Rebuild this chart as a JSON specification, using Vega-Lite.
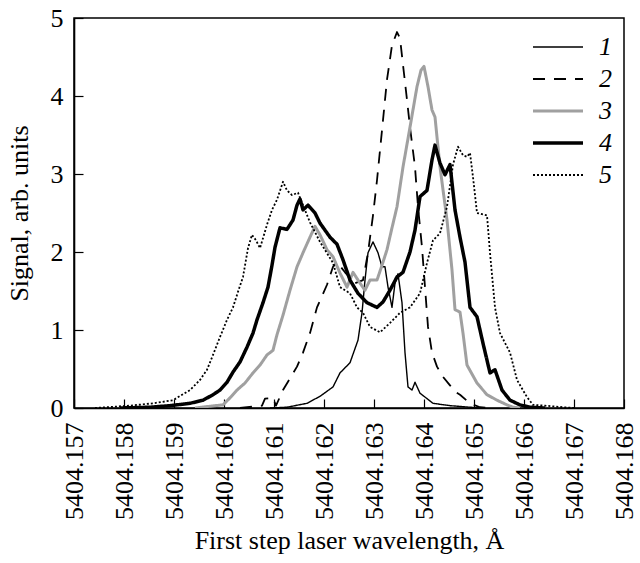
{
"$schema": "https://vega.github.io/schema/vega-lite/v6.json",
"width": 550, "height": 390,
"autosize": {"type": "none"},
"padding": {"left": 74, "top": 18, "right": 16, "bottom": 155},
"background": "white",
"config": {
  "view": {"stroke": "black", "strokeWidth": 1.5},
  "font": "Liberation Serif",
  "axis": {"grid": false, "domainColor": "black", "domainWidth": 1.6, "tickColor": "black", "tickWidth": 1.2, "tickSize": -9, "labelColor": "black", "titleColor": "black", "labelFont": "Liberation Serif", "titleFont": "Liberation Serif", "labelFontSize": 26, "titleFontSize": 26, "titleFontWeight": "normal", "labelOverlap": false, "labelFlush": false, "labelBound": false}
},
"data": {"values": [
{"c":"1","w":5404.16092,"s":0},{"c":"1","w":5404.16126,"s":0.01},{"c":"1","w":5404.16166,"s":0.06},{"c":"1","w":5404.16192,"s":0.15},{"c":"1","w":5404.16218,"s":0.27},{"c":"1","w":5404.16232,"s":0.45},{"c":"1","w":5404.16252,"s":0.58},{"c":"1","w":5404.16268,"s":0.87},{"c":"1","w":5404.16276,"s":1.22},{"c":"1","w":5404.16282,"s":1.64},{"c":"1","w":5404.16288,"s":1.99},{"c":"1","w":5404.16298,"s":2.13},{"c":"1","w":5404.16308,"s":1.99},{"c":"1","w":5404.16316,"s":1.81},{"c":"1","w":5404.16322,"s":1.81},{"c":"1","w":5404.16328,"s":1.55},{"c":"1","w":5404.16336,"s":1.29},{"c":"1","w":5404.16342,"s":1.6},{"c":"1","w":5404.16348,"s":1.72},{"c":"1","w":5404.16356,"s":1.35},{"c":"1","w":5404.16362,"s":0.71},{"c":"1","w":5404.16368,"s":0.27},{"c":"1","w":5404.16376,"s":0.23},{"c":"1","w":5404.16382,"s":0.33},{"c":"1","w":5404.16392,"s":0.19},{"c":"1","w":5404.16418,"s":0.06},{"c":"1","w":5404.16452,"s":0.03},{"c":"1","w":5404.16512,"s":0},
{"c":"2","w":5404.16032,"s":0},{"c":"2","w":5404.16076,"s":0.03},{"c":"2","w":5404.16082,"s":0.12},{"c":"2","w":5404.16098,"s":0.13},{"c":"2","w":5404.16104,"s":0.03},{"c":"2","w":5404.16118,"s":0.23},{"c":"2","w":5404.16146,"s":0.53},{"c":"2","w":5404.16158,"s":0.71},{"c":"2","w":5404.16172,"s":0.96},{"c":"2","w":5404.16186,"s":1.29},{"c":"2","w":5404.16206,"s":1.58},{"c":"2","w":5404.16218,"s":1.81},{"c":"2","w":5404.16226,"s":1.87},{"c":"2","w":5404.16242,"s":1.74},{"c":"2","w":5404.16262,"s":1.6},{"c":"2","w":5404.16278,"s":1.64},{"c":"2","w":5404.16288,"s":1.99},{"c":"2","w":5404.16298,"s":2.47},{"c":"2","w":5404.16306,"s":2.92},{"c":"2","w":5404.16316,"s":3.56},{"c":"2","w":5404.16326,"s":4.21},{"c":"2","w":5404.16336,"s":4.65},{"c":"2","w":5404.16346,"s":4.82},{"c":"2","w":5404.16352,"s":4.74},{"c":"2","w":5404.16358,"s":4.4},{"c":"2","w":5404.16366,"s":3.95},{"c":"2","w":5404.16372,"s":3.6},{"c":"2","w":5404.16382,"s":3.09},{"c":"2","w":5404.16388,"s":2.58},{"c":"2","w":5404.16396,"s":2.06},{"c":"2","w":5404.16402,"s":1.55},{"c":"2","w":5404.16408,"s":1.04},{"c":"2","w":5404.16416,"s":0.71},{"c":"2","w":5404.16426,"s":0.53},{"c":"2","w":5404.16438,"s":0.4},{"c":"2","w":5404.16452,"s":0.29},{"c":"2","w":5404.16462,"s":0.21},{"c":"2","w":5404.16472,"s":0.17},{"c":"2","w":5404.16492,"s":0.06},{"c":"2","w":5404.16512,"s":0.01},{"c":"2","w":5404.16532,"s":0},
{"c":"3","w":5404.15942,"s":0},{"c":"3","w":5404.15982,"s":0.03},{"c":"3","w":5404.15998,"s":0.04},{"c":"3","w":5404.16012,"s":0.13},{"c":"3","w":5404.16026,"s":0.23},{"c":"3","w":5404.16042,"s":0.32},{"c":"3","w":5404.16058,"s":0.45},{"c":"3","w":5404.16072,"s":0.55},{"c":"3","w":5404.16086,"s":0.68},{"c":"3","w":5404.16098,"s":0.74},{"c":"3","w":5404.16106,"s":0.94},{"c":"3","w":5404.16118,"s":1.19},{"c":"3","w":5404.16132,"s":1.51},{"c":"3","w":5404.16146,"s":1.81},{"c":"3","w":5404.16158,"s":1.99},{"c":"3","w":5404.16172,"s":2.19},{"c":"3","w":5404.16182,"s":2.33},{"c":"3","w":5404.16192,"s":2.22},{"c":"3","w":5404.16206,"s":2.03},{"c":"3","w":5404.16218,"s":1.94},{"c":"3","w":5404.16232,"s":1.73},{"c":"3","w":5404.16246,"s":1.55},{"c":"3","w":5404.16258,"s":1.74},{"c":"3","w":5404.16272,"s":1.6},{"c":"3","w":5404.16282,"s":1.51},{"c":"3","w":5404.16292,"s":1.64},{"c":"3","w":5404.16306,"s":1.64},{"c":"3","w":5404.16316,"s":1.83},{"c":"3","w":5404.16326,"s":2.03},{"c":"3","w":5404.16336,"s":2.31},{"c":"3","w":5404.16346,"s":2.58},{"c":"3","w":5404.16358,"s":3.09},{"c":"3","w":5404.16372,"s":3.6},{"c":"3","w":5404.16386,"s":4.12},{"c":"3","w":5404.16394,"s":4.33},{"c":"3","w":5404.164,"s":4.38},{"c":"3","w":5404.16408,"s":4.12},{"c":"3","w":5404.16416,"s":3.82},{"c":"3","w":5404.16422,"s":3.73},{"c":"3","w":5404.16432,"s":3.09},{"c":"3","w":5404.16446,"s":2.41},{"c":"3","w":5404.16456,"s":1.77},{"c":"3","w":5404.16462,"s":1.26},{"c":"3","w":5404.16472,"s":1.23},{"c":"3","w":5404.16478,"s":0.96},{"c":"3","w":5404.16486,"s":0.55},{"c":"3","w":5404.16506,"s":0.32},{"c":"3","w":5404.16526,"s":0.17},{"c":"3","w":5404.16546,"s":0.1},{"c":"3","w":5404.16566,"s":0.04},{"c":"3","w":5404.16578,"s":0.01},{"c":"3","w":5404.16592,"s":0},
{"c":"4","w":5404.15792,"s":0},{"c":"4","w":5404.15852,"s":0.01},{"c":"4","w":5404.15892,"s":0.03},{"c":"4","w":5404.15932,"s":0.06},{"c":"4","w":5404.15958,"s":0.1},{"c":"4","w":5404.15978,"s":0.17},{"c":"4","w":5404.15992,"s":0.23},{"c":"4","w":5404.16006,"s":0.33},{"c":"4","w":5404.16018,"s":0.46},{"c":"4","w":5404.16032,"s":0.59},{"c":"4","w":5404.16046,"s":0.78},{"c":"4","w":5404.16058,"s":0.96},{"c":"4","w":5404.16066,"s":1.13},{"c":"4","w":5404.16078,"s":1.35},{"c":"4","w":5404.16088,"s":1.55},{"c":"4","w":5404.16096,"s":1.83},{"c":"4","w":5404.16102,"s":2.06},{"c":"4","w":5404.16112,"s":2.31},{"c":"4","w":5404.16126,"s":2.29},{"c":"4","w":5404.16138,"s":2.41},{"c":"4","w":5404.16146,"s":2.6},{"c":"4","w":5404.16152,"s":2.68},{"c":"4","w":5404.16158,"s":2.54},{"c":"4","w":5404.16168,"s":2.6},{"c":"4","w":5404.16182,"s":2.5},{"c":"4","w":5404.16192,"s":2.37},{"c":"4","w":5404.16212,"s":2.19},{"c":"4","w":5404.16226,"s":2.1},{"c":"4","w":5404.16238,"s":1.9},{"c":"4","w":5404.16252,"s":1.64},{"c":"4","w":5404.16268,"s":1.47},{"c":"4","w":5404.16286,"s":1.35},{"c":"4","w":5404.16306,"s":1.29},{"c":"4","w":5404.16318,"s":1.36},{"c":"4","w":5404.16332,"s":1.51},{"c":"4","w":5404.16346,"s":1.68},{"c":"4","w":5404.16358,"s":1.74},{"c":"4","w":5404.16372,"s":2.0},{"c":"4","w":5404.16382,"s":2.28},{"c":"4","w":5404.16392,"s":2.71},{"c":"4","w":5404.16406,"s":2.79},{"c":"4","w":5404.16416,"s":3.18},{"c":"4","w":5404.16422,"s":3.37},{"c":"4","w":5404.16432,"s":3.14},{"c":"4","w":5404.16442,"s":2.99},{"c":"4","w":5404.16452,"s":3.12},{"c":"4","w":5404.16462,"s":2.54},{"c":"4","w":5404.16472,"s":2.19},{"c":"4","w":5404.16482,"s":1.87},{"c":"4","w":5404.16492,"s":1.29},{"c":"4","w":5404.16506,"s":1.17},{"c":"4","w":5404.16518,"s":0.83},{"c":"4","w":5404.16532,"s":0.45},{"c":"4","w":5404.16542,"s":0.49},{"c":"4","w":5404.16556,"s":0.23},{"c":"4","w":5404.16572,"s":0.1},{"c":"4","w":5404.16592,"s":0.04},{"c":"4","w":5404.16612,"s":0.01},{"c":"4","w":5404.16642,"s":0},
{"c":"5","w":5404.15742,"s":0},{"c":"5","w":5404.15812,"s":0.03},{"c":"5","w":5404.15858,"s":0.06},{"c":"5","w":5404.15898,"s":0.1},{"c":"5","w":5404.15932,"s":0.23},{"c":"5","w":5404.15952,"s":0.36},{"c":"5","w":5404.15966,"s":0.49},{"c":"5","w":5404.15978,"s":0.68},{"c":"5","w":5404.15992,"s":0.91},{"c":"5","w":5404.16006,"s":1.13},{"c":"5","w":5404.16018,"s":1.29},{"c":"5","w":5404.16028,"s":1.49},{"c":"5","w":5404.16038,"s":1.68},{"c":"5","w":5404.16048,"s":2.05},{"c":"5","w":5404.16056,"s":2.22},{"c":"5","w":5404.16064,"s":2.15},{"c":"5","w":5404.16072,"s":2.05},{"c":"5","w":5404.1608,"s":2.22},{"c":"5","w":5404.16086,"s":2.35},{"c":"5","w":5404.16096,"s":2.54},{"c":"5","w":5404.16106,"s":2.67},{"c":"5","w":5404.16118,"s":2.9},{"c":"5","w":5404.16126,"s":2.79},{"c":"5","w":5404.16136,"s":2.73},{"c":"5","w":5404.16148,"s":2.76},{"c":"5","w":5404.16158,"s":2.6},{"c":"5","w":5404.16172,"s":2.38},{"c":"5","w":5404.16192,"s":2.13},{"c":"5","w":5404.16218,"s":1.86},{"c":"5","w":5404.16232,"s":1.55},{"c":"5","w":5404.16252,"s":1.47},{"c":"5","w":5404.16266,"s":1.29},{"c":"5","w":5404.16278,"s":1.22},{"c":"5","w":5404.16292,"s":1.04},{"c":"5","w":5404.16312,"s":0.97},{"c":"5","w":5404.16332,"s":1.09},{"c":"5","w":5404.16352,"s":1.22},{"c":"5","w":5404.16372,"s":1.29},{"c":"5","w":5404.16392,"s":1.47},{"c":"5","w":5404.16406,"s":1.86},{"c":"5","w":5404.16418,"s":2.15},{"c":"5","w":5404.16432,"s":2.24},{"c":"5","w":5404.16446,"s":2.58},{"c":"5","w":5404.16458,"s":3.12},{"c":"5","w":5404.16468,"s":3.35},{"c":"5","w":5404.16478,"s":3.24},{"c":"5","w":5404.16486,"s":3.22},{"c":"5","w":5404.16492,"s":3.27},{"c":"5","w":5404.16498,"s":2.96},{"c":"5","w":5404.16506,"s":2.5},{"c":"5","w":5404.16526,"s":2.47},{"c":"5","w":5404.16532,"s":1.99},{"c":"5","w":5404.16542,"s":1.29},{"c":"5","w":5404.16552,"s":0.96},{"c":"5","w":5404.16572,"s":0.71},{"c":"5","w":5404.16586,"s":0.36},{"c":"5","w":5404.16606,"s":0.14},{"c":"5","w":5404.16618,"s":0.04},{"c":"5","w":5404.16642,"s":0.03},{"c":"5","w":5404.16678,"s":0.01},{"c":"5","w":5404.16702,"s":0}
]},
"mark": {"type": "line", "strokeJoin": "round", "clip": true},
"encoding": {
  "x": {"field": "w", "type": "quantitative", "scale": {"domain": [5404.157, 5404.168], "nice": false, "zero": false},
        "axis": {"values": [5404.157,5404.158,5404.159,5404.16,5404.161,5404.162,5404.163,5404.164,5404.165,5404.166,5404.167,5404.168], "format": ".3f", "labelAngle": -90, "labelPadding": 23, "labelFont": "Liberation Serif", "labelFontSize": 26, "title": "First step laser wavelength, Å", "titleFont": "Liberation Serif", "titleFontSize": 26, "titlePadding": 8}},
  "y": {"field": "s", "type": "quantitative", "scale": {"domain": [0, 5], "nice": false},
        "axis": {"values": [0,1,2,3,4,5], "labelPadding": 20, "labelFont": "Liberation Serif", "labelFontSize": 26, "title": "Signal, arb. units", "titleFont": "Liberation Serif", "titleFontSize": 26, "titlePadding": 18}},
  "color": {"field": "c", "type": "nominal", "scale": {"domain": ["1","2","3","4","5"], "range": ["black","black","#a0a0a0","black","black"]},
            "legend": {"title": null, "orient": "none", "legendX": 471, "legendY": 16, "symbolType": "M-2.5,0H2.5", "symbolSize": 400, "labelOffset": 28, "labelFont": "Liberation Serif", "labelFontStyle": "italic", "labelFontSize": 26, "labelColor": "black", "rowPadding": 6, "padding": 0}},
  "strokeDash": {"field": "c", "type": "nominal", "scale": {"domain": ["1","2","3","4","5"], "range": [[1,0],[12,9],[1,0],[1,0],[2,2]]}, "legend": {"title": null}},
  "strokeWidth": {"field": "c", "type": "ordinal", "scale": {"type": "ordinal", "domain": ["1","2","3","4","5"], "range": [1.4,1.8,3,3.5,1.8]}, "legend": {"title": null}}
}
}
